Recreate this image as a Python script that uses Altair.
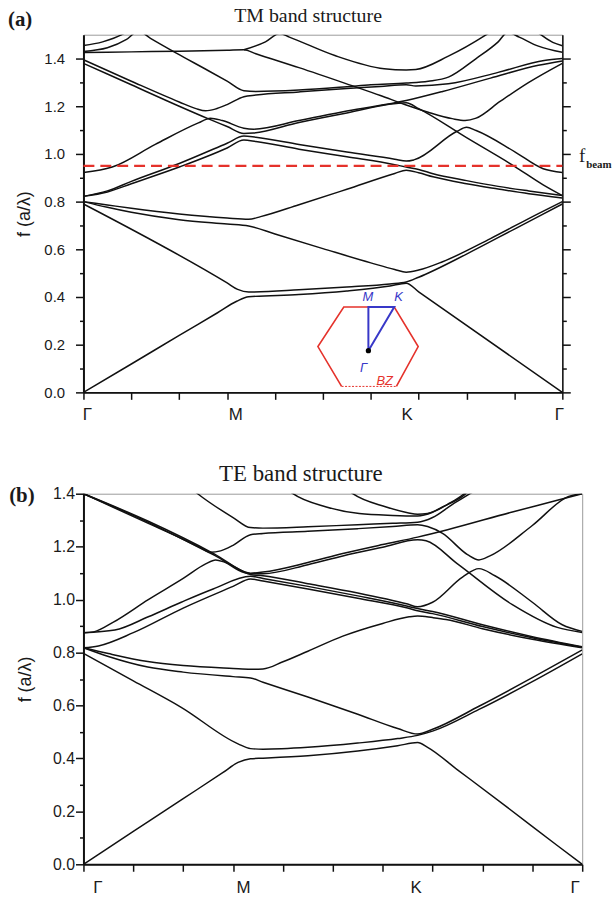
import altair as alt
import pandas as pd

# ------------------------------------------------------------------
# Values.  x = position along the path
# Γ(0) – M(≈0.335) – K(≈0.672) – Γ(1);  f = normalised frequency a/λ
# ------------------------------------------------------------------

# ---- (a) TM bands ----
TM_01 = [(0, 0), (0.1, 0.119), (0.2, 0.239), (0.28, 0.334), (0.32, 0.382), (0.345, 0.401),
         (0.45, 0.41), (0.55, 0.425), (0.64, 0.446), (0.674, 0.458), (0.70, 0.4215), (1.0, 0.0)]
TM_02 = [(0, 0.79), (0.3, 0.459), (0.322, 0.432), (0.345, 0.421), (0.45, 0.43), (0.55, 0.442),
         (0.64, 0.455), (0.674, 0.463), (0.70, 0.483), (0.80, 0.58), (0.90, 0.685), (1.0, 0.79)]
TM_03 = [(0, 0.80), (0.05, 0.776), (0.1, 0.755), (0.2, 0.724), (0.3, 0.706), (0.345, 0.698),
         (0.4, 0.664), (0.5, 0.603), (0.6, 0.543), (0.65, 0.515), (0.674, 0.504), (0.70, 0.513),
         (0.75, 0.548), (0.85, 0.645), (0.95, 0.75), (1.0, 0.80)]
TM_04 = [(0, 0.80), (0.05, 0.786), (0.1, 0.772), (0.2, 0.748), (0.3, 0.731), (0.345, 0.726),
         (0.37, 0.737), (0.45, 0.787), (0.55, 0.852), (0.65, 0.918), (0.674, 0.932), (0.70, 0.921),
         (0.73, 0.904), (0.8, 0.875), (0.866, 0.853), (0.93, 0.833), (1.0, 0.815)]
TM_05 = [(0, 0.822), (0.05, 0.84), (0.1, 0.875), (0.2, 0.945), (0.3, 1.025), (0.335, 1.058),
         (0.36, 1.052), (0.45, 1.02), (0.55, 0.988), (0.65, 0.955), (0.674, 0.945), (0.70, 0.935),
         (0.73, 0.917), (0.8, 0.888), (0.866, 0.864), (0.93, 0.845), (1.0, 0.826)]
TM_06 = [(0, 0.822), (0.05, 0.845), (0.1, 0.885), (0.2, 0.96), (0.3, 1.045), (0.335, 1.075),
         (0.36, 1.07), (0.45, 1.04), (0.55, 1.008), (0.65, 0.978), (0.674, 0.97), (0.69, 0.975),
         (0.78, 1.095), (0.80, 1.112), (0.82, 1.098), (0.9, 1.01), (0.96, 0.938), (1.0, 0.922)]
TM_07 = [(0, 0.922), (0.06, 0.945), (0.15, 1.04), (0.24, 1.13), (0.265, 1.15), (0.29, 1.14),
         (0.335, 1.108), (0.355, 1.104), (0.45, 1.14), (0.55, 1.18), (0.674, 1.224), (0.75, 1.262),
         (0.85, 1.318), (0.95, 1.372), (1.0, 1.39)]
TM_08 = [(0, 1.38), (0.1, 1.29), (0.2, 1.2), (0.26, 1.148), (0.3, 1.115), (0.335, 1.086),
         (0.355, 1.088), (0.45, 1.132), (0.55, 1.172), (0.674, 1.215), (0.70, 1.19), (0.8, 1.068),
         (0.9, 0.948), (0.96, 0.87), (1.0, 0.825)]
TM_09 = [(0, 1.395), (0.1, 1.305), (0.2, 1.218), (0.235, 1.19), (0.255, 1.181), (0.275, 1.188),
         (0.3, 1.207), (0.335, 1.24), (0.36, 1.247), (0.45, 1.26), (0.55, 1.274), (0.62, 1.283),
         (0.674, 1.29), (0.694, 1.285), (0.762, 1.294), (0.866, 1.342), (0.962, 1.392), (1.0, 1.40)]
TM_10 = [(0, 1.425), (0.1, 1.428), (0.2, 1.431), (0.3, 1.435), (0.335, 1.437), (0.36, 1.42),
         (0.45, 1.362), (0.559, 1.2875), (0.62, 1.245), (0.674, 1.205), (0.72, 1.175), (0.77, 1.148),
         (0.797, 1.14), (0.82, 1.15), (0.87, 1.22), (0.93, 1.3), (1.0, 1.38)]
TM_11 = [(0, 1.43), (0.05, 1.445), (0.09, 1.48), (0.115, 1.515), (0.14, 1.485), (0.194, 1.423),
         (0.26, 1.35), (0.3, 1.305), (0.335, 1.265), (0.36, 1.262), (0.45, 1.268), (0.55, 1.282),
         (0.6, 1.29), (0.674, 1.297), (0.72, 1.305), (0.762, 1.322), (0.82, 1.40), (0.866, 1.47),
         (0.886, 1.51), (0.91, 1.49), (0.95, 1.452), (1.0, 1.426)]
TM_12 = [(0, 1.455), (0.04, 1.47), (0.08, 1.5), (0.1, 1.525)]
TM_13 = [(0.335, 1.437), (0.38, 1.47), (0.41, 1.505), (0.43, 1.49), (0.525, 1.4125), (0.628, 1.357),
         (0.674, 1.352), (0.694, 1.354), (0.762, 1.41), (0.838, 1.496), (0.86, 1.525)]
TM_14 = [(0.94, 1.525), (0.955, 1.5), (0.98, 1.468), (1.0, 1.454)]

# ---- (b) TE bands ----
TE_01 = [(0, 0), (0.1, 0.124), (0.2, 0.248), (0.28, 0.347), (0.31, 0.385), (0.335, 0.399),
         (0.36, 0.401), (0.45, 0.41), (0.55, 0.428), (0.63, 0.448), (0.67, 0.46), (0.69, 0.442),
         (0.75, 0.357), (0.85, 0.215), (0.95, 0.071), (1.0, 0.0)]
TE_02 = [(0, 0.797), (0.1, 0.693), (0.196, 0.593), (0.31, 0.455), (0.335, 0.437), (0.36, 0.435),
         (0.45, 0.442), (0.55, 0.458), (0.63, 0.475), (0.67, 0.487), (0.70, 0.503), (0.793, 0.585),
         (0.9, 0.69), (1.0, 0.795)]
TE_03 = [(0, 0.818), (0.05, 0.785), (0.129, 0.745), (0.2, 0.726), (0.3, 0.709), (0.335, 0.704),
         (0.36, 0.688), (0.45, 0.632), (0.55, 0.567), (0.63, 0.513), (0.67, 0.492), (0.70, 0.51),
         (0.793, 0.597), (0.9, 0.705), (1.0, 0.81)]
TE_04 = [(0, 0.818), (0.05, 0.796), (0.129, 0.766), (0.2, 0.751), (0.3, 0.74), (0.335, 0.737),
         (0.36, 0.738), (0.4, 0.765), (0.45, 0.805), (0.52, 0.862), (0.6, 0.91), (0.653, 0.935),
         (0.67, 0.938), (0.70, 0.932), (0.727, 0.925), (0.8, 0.89), (0.9, 0.85), (1.0, 0.818)]
TE_05 = [(0, 0.818), (0.03, 0.825), (0.1, 0.875), (0.2, 0.968), (0.3, 1.05), (0.335, 1.078),
         (0.36, 1.07), (0.45, 1.04), (0.55, 1.005), (0.65, 0.968), (0.67, 0.958), (0.70, 0.947),
         (0.8, 0.898), (0.9, 0.856), (1.0, 0.82)]
TE_06 = [(0, 0.875), (0.063, 0.885), (0.13, 0.935), (0.196, 0.99), (0.26, 1.04), (0.335, 1.088),
         (0.36, 1.08), (0.45, 1.05), (0.55, 1.014), (0.65, 0.975), (0.67, 0.966), (0.70, 0.955),
         (0.8, 0.905), (0.9, 0.86), (1.0, 0.822)]
TE_07 = [(0, 0.875), (0.02, 0.878), (0.06, 0.915), (0.13, 1.0), (0.2, 1.08), (0.245, 1.135),
         (0.265, 1.15), (0.285, 1.14), (0.335, 1.10), (0.36, 1.104), (0.45, 1.14), (0.52, 1.174),
         (0.6, 1.208), (0.67, 1.236), (0.73, 1.264), (0.86, 1.331), (0.95, 1.375), (1.0, 1.40)]
TE_08 = [(0, 1.40), (0.13, 1.292), (0.263, 1.167), (0.335, 1.098), (0.36, 1.098), (0.45, 1.132),
         (0.52, 1.165), (0.6, 1.198), (0.67, 1.226), (0.687, 1.222), (0.75, 1.135), (0.86, 0.981),
         (0.95, 0.895), (1.0, 0.876)]
TE_09 = [(0, 1.40), (0.13, 1.296), (0.263, 1.172), (0.335, 1.095), (0.36, 1.09), (0.45, 1.06),
         (0.55, 1.025), (0.65, 0.983), (0.67, 0.973), (0.70, 0.99), (0.76, 1.085), (0.793, 1.117),
         (0.825, 1.09), (0.9, 0.99), (0.96, 0.905), (1.0, 0.88)]
TE_10 = [(0, 1.40), (0.13, 1.288), (0.2, 1.228), (0.235, 1.196), (0.255, 1.179), (0.275, 1.184),
         (0.3, 1.205), (0.335, 1.245), (0.36, 1.25), (0.45, 1.258), (0.55, 1.268), (0.62, 1.276),
         (0.67, 1.283), (0.69, 1.276), (0.72, 1.25), (0.77, 1.17), (0.793, 1.15), (0.815, 1.165),
         (0.9, 1.28), (0.973, 1.39), (1.0, 1.40)]
TE_11 = [(0.2, 1.445), (0.229, 1.40), (0.3, 1.31), (0.335, 1.272), (0.36, 1.27), (0.45, 1.275),
         (0.55, 1.283), (0.62, 1.288), (0.67, 1.292), (0.70, 1.31), (0.74, 1.36), (0.775, 1.40),
         (0.8, 1.43)]
TE_12 = [(0.40, 1.43), (0.42, 1.40), (0.487, 1.35), (0.553, 1.325), (0.62, 1.318), (0.67, 1.316),
         (0.70, 1.33), (0.73, 1.36), (0.76, 1.395), (0.78, 1.43)]
TE_13 = [(0.52, 1.43), (0.54, 1.40), (0.607, 1.35), (0.65, 1.328), (0.67, 1.322), (0.69, 1.325),
         (0.72, 1.35), (0.76, 1.39), (0.785, 1.43)]

TM_BANDS = [TM_01, TM_02, TM_03, TM_04, TM_05, TM_06, TM_07, TM_08, TM_09, TM_10,
            TM_11, TM_12, TM_13, TM_14]
TE_BANDS = [TE_01, TE_02, TE_03, TE_04, TE_05, TE_06, TE_07, TE_08, TE_09, TE_10,
            TE_11, TE_12, TE_13]

# path labels
K_LABELS = ["Γ", "M", "K", "Γ"]
TM_LABEL_X = [0.008, 0.318, 0.676, 0.994]
TE_LABEL_X = [0.029, 0.321, 0.667, 0.986]
TM_LABEL_F = -0.096
TE_LABEL_F = -0.09

F_BEAM = 0.95

# Brillouin-zone inset (panel a, in data units)
BZ_HEX_X = [0.6535, 0.699, 0.649, 0.5436, 0.4896, 0.539]
BZ_HEX_F = [0.025, 0.192, 0.358, 0.358, 0.192, 0.025]
BZ_EDGE_X = [0.539, 0.6535]
BZ_EDGE_F = [0.025, 0.025]
BZ_TRI_X = [0.595, 0.595, 0.649, 0.595]
BZ_TRI_F = [0.175, 0.358, 0.358, 0.175]
BZ_TXT = ["M", "K", "Γ"]
BZ_TXT_X = [0.594, 0.658, 0.585]
BZ_TXT_F = [0.40, 0.40, 0.104]

# ------------------------------------------------------------------
RED = "#e5322b"
BLUE = "#3838c8"
INK = "#111111"


def band_frame(bands):
    rows = []
    for b, pts in enumerate(bands):
        for i, (x, f) in enumerate(pts):
            rows.append({"band": b, "i": i, "x": x, "f": f})
    return pd.DataFrame(rows)


xs = alt.Scale(domain=[0, 1], nice=False, zero=False)
ys_a = alt.Scale(domain=[0, 1.5], nice=False, zero=False)
ys_b = alt.Scale(domain=[0, 1.4], nice=False, zero=False)

X_TICKS = [round(0.1 * k, 1) for k in range(11)]
Y_TICKS = [round(0.1 * k, 1) for k in range(15)]
EVEN = "round(datum.value * 10) % 2 == 0"
LABEL_EXPR = "round(datum.value * 10) % 2 == 0 ? format(datum.value, '.1f') : ''"
TICK_SIZE = {"condition": {"test": EVEN, "value": 8}, "value": 4}


def x_axis():
    return alt.Axis(values=X_TICKS, orient="bottom", labels=False, title=None, grid=False,
                    tickSize=7, tickWidth=1.5, tickColor=INK, domainColor=INK, domainWidth=2)


def left_axis(label_size, label_pad, title_pad):
    return alt.Axis(values=Y_TICKS, orient="left", grid=False, labelExpr=LABEL_EXPR,
                    labelOverlap=False, labelFont="Liberation Sans", labelFontSize=label_size,
                    labelColor="#1a1a1a", labelPadding=label_pad, tickSize=TICK_SIZE,
                    tickWidth=1.5, tickColor=INK, domainColor=INK, domainWidth=2,
                    title="f (a/λ)", titleFont="Liberation Sans", titleFontSize=18,
                    titleFontWeight="normal", titleColor="#1a1a1a", titlePadding=title_pad)


right_axis = alt.Axis(values=Y_TICKS, orient="right", grid=False, labels=False, title=None,
                      tickSize=TICK_SIZE, tickWidth=1.5, tickColor=INK, domainColor=INK,
                      domainWidth=1.5)


def text_layer(df, ys, **mark):
    return alt.Chart(df).mark_text(**mark).encode(
        x=alt.X("x:Q", scale=xs, axis=None),
        y=alt.Y("f:Q", scale=ys, axis=None),
        text="t:N",
    )


def path_layer(xv, fv, ys, **mark):
    df = pd.DataFrame({"x": xv, "f": fv, "i": list(range(len(xv)))})
    return alt.Chart(df).mark_line(**mark).encode(
        x=alt.X("x:Q", scale=xs, axis=None),
        y=alt.Y("f:Q", scale=ys, axis=None),
        order="i:Q",
    )


# ----------------------------- panel (a) -----------------------------
bands_a = alt.Chart(band_frame(TM_BANDS)).mark_line(
    color=INK, strokeWidth=1.5, clip=True, interpolate="monotone"
).encode(
    x=alt.X("x:Q", scale=xs, axis=x_axis()),
    y=alt.Y("f:Q", scale=ys_a, axis=left_axis(15, 11, 10)),
    detail="band:N",
    order="i:Q",
)

beam = alt.Chart(pd.DataFrame({"x0": [0.0], "x1": [1.0], "f": [F_BEAM]})).mark_rule(
    color=RED, strokeDash=[11, 6], strokeWidth=2.2
).encode(
    x=alt.X("x0:Q", scale=xs, axis=None),
    x2="x1:Q",
    y=alt.Y("f:Q", scale=ys_a, axis=right_axis),
)

hex_solid = path_layer(BZ_HEX_X, BZ_HEX_F, ys_a, color=RED, strokeWidth=1.6)
hex_edge = path_layer(BZ_EDGE_X, BZ_EDGE_F, ys_a, color=RED, strokeWidth=1, strokeDash=[2, 1.5])
tri = path_layer(BZ_TRI_X, BZ_TRI_F, ys_a, color=BLUE, strokeWidth=2)
gamma_dot = alt.Chart(pd.DataFrame({"x": [BZ_TRI_X[0]], "f": [BZ_TRI_F[0]]})).mark_circle(
    color="black", size=28, opacity=1
).encode(x=alt.X("x:Q", scale=xs, axis=None), y=alt.Y("f:Q", scale=ys_a, axis=None))

bz_txt = text_layer(pd.DataFrame({"x": BZ_TXT_X, "f": BZ_TXT_F, "t": BZ_TXT}), ys_a,
                    font="Liberation Sans", fontSize=13, fontStyle="italic", color=BLUE)
bz_lbl = text_layer(pd.DataFrame({"x": [0.629], "f": [0.046], "t": ["BZ"]}), ys_a,
                    font="Liberation Sans", fontSize=13, fontStyle="italic", color=RED)

xlab_a = text_layer(pd.DataFrame({"x": TM_LABEL_X, "f": [TM_LABEL_F] * 4, "t": K_LABELS}), ys_a,
                    font="Liberation Sans", fontSize=17, color="#1a1a1a")
title_a = text_layer(pd.DataFrame({"x": [0.469], "f": [1.579], "t": ["TM band structure"]}), ys_a,
                     font="Liberation Serif", fontSize=20, color="#1a1a1a")
tag_a = text_layer(pd.DataFrame({"x": [-0.1577], "f": [1.56], "t": ["(a)"]}), ys_a,
                   font="Liberation Serif", fontSize=21, fontWeight="bold", align="left",
                   color="#1a1a1a")
f_lbl = text_layer(pd.DataFrame({"x": [1.0415], "f": [0.99], "t": ["f"]}), ys_a,
                   font="Liberation Serif", fontSize=19, color="#1a1a1a")
f_sub = text_layer(pd.DataFrame({"x": [1.0498], "f": [0.955], "t": ["beam"]}), ys_a,
                   font="Liberation Serif", fontSize=11, fontWeight="bold", align="left",
                   color="#1a1a1a")

panel_a = alt.layer(
    bands_a, beam, hex_solid, hex_edge, tri, gamma_dot, bz_txt, bz_lbl,
    xlab_a, title_a, tag_a, f_lbl, f_sub,
).resolve_axis(x="independent", y="independent").properties(width=482, height=360)

# ----------------------------- panel (b) -----------------------------
bands_b = alt.Chart(band_frame(TE_BANDS)).mark_line(
    color=INK, strokeWidth=1.5, clip=True, interpolate="monotone"
).encode(
    x=alt.X("x:Q", scale=xs, axis=x_axis()),
    y=alt.Y("f:Q", scale=ys_b, axis=left_axis(16, 1, 18)),
    detail="band:N",
    order="i:Q",
)

xlab_b = text_layer(pd.DataFrame({"x": TE_LABEL_X, "f": [TE_LABEL_F] * 4, "t": K_LABELS}), ys_b,
                    font="Liberation Sans", fontSize=17, color="#1a1a1a")
title_b = text_layer(pd.DataFrame({"x": [0.436], "f": [1.475], "t": ["TE band structure"]}), ys_b,
                     font="Liberation Serif", fontSize=23, color="#1a1a1a")
tag_b = text_layer(pd.DataFrame({"x": [-0.149], "f": [1.392], "t": ["(b)"]}), ys_b,
                   font="Liberation Serif", fontSize=21, fontWeight="bold", align="left",
                   color="#1a1a1a")

panel_b = alt.layer(bands_b, xlab_b, title_b, tag_b).resolve_axis(
    x="independent", y="independent"
).properties(width=502, height=373)

chart = alt.vconcat(panel_a, panel_b, spacing=102, bounds="flush").properties(
    padding={"left": 7, "top": 2, "right": 0, "bottom": 0},
    background="white",
).configure_view(stroke="#9a9a9a", strokeWidth=1)

chart.save("out.html", embed_options={"renderer": "svg", "actions": False})
